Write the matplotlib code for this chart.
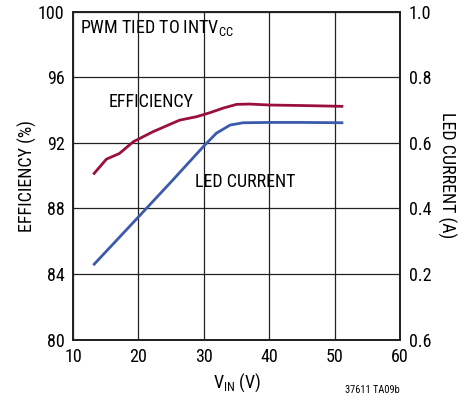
import matplotlib
matplotlib.use('Agg')
import matplotlib.pyplot as plt

plt.rcParams['font.family'] = ['Roboto Condensed', 'Archivo Narrow', 'DejaVu Sans']

# data
vin_eff = [13.1, 15.1, 17.1, 19.2, 22.2, 26.3, 28.9, 30.9, 33.0, 35.0, 37.0, 40.1, 45.0, 51.3]
efficiency = [90.07, 91.0, 91.35, 92.06, 92.67, 93.38, 93.59, 93.83, 94.12, 94.34, 94.36, 94.30, 94.27, 94.22]
vin_led = [13.1, 20.0, 25.0, 29.9, 31.9, 34.0, 36.0, 40.0, 45.0, 51.3]
led_current = [0.227, 0.374, 0.481, 0.588, 0.629, 0.654, 0.661, 0.662, 0.662, 0.661]

x_ticks = [10, 20, 30, 40, 50, 60]
eff_ticks = [80, 84, 88, 92, 96, 100]
cur_ticks = [0.0, 0.2, 0.4, 0.6, 0.8, 1.0]
cur_labels = ['0.6', '0.2', '0.4', '0.6', '0.8', '1.0']

red = '#9b0f3c'
blue = '#3b5aab'

fig = plt.figure(figsize=(4.73, 4.04), dpi=100)
ax = fig.add_axes([0.1543, 0.1592, 0.6918, 0.8123])
ax2 = ax.twinx()

ax.plot(vin_eff, efficiency, color=red, lw=2.0, solid_capstyle='butt', zorder=3)
ax2.plot(vin_led, led_current, color=blue, lw=2.0, solid_capstyle='butt', zorder=3)

ax.set_xlim(10, 60)
ax.set_ylim(80, 100)
ax2.set_ylim(0, 1.0)
ax.set_xticks(x_ticks)
ax.set_yticks(eff_ticks)
ax2.set_yticks(cur_ticks)
ax2.set_yticklabels(cur_labels)

ax.grid(True, color='#222222', lw=0.9)
ax.set_axisbelow(True)
for a in (ax, ax2):
    a.tick_params(length=0, labelsize=13, pad=6)
    for s in a.spines.values():
        s.set_linewidth(1.3)
        s.set_color('#222222')

ax.set_xlabel('V$_{\\mathregular{IN}}$ (V)', fontsize=13, labelpad=4)
ax.set_ylabel('EFFICIENCY (%)', fontsize=13, labelpad=0.5)
ax2.set_ylabel('LED CURRENT (A)', fontsize=13, rotation=270, labelpad=18)

ax.text(11.0, 99.0, 'PWM TIED TO INTV$_{\\mathregular{CC}}$', fontsize=13, va='center')
ax.text(15.5, 94.48, 'EFFICIENCY', fontsize=13, va='center')
ax.text(28.7, 89.6, 'LED CURRENT', fontsize=13, va='center')

fig.text(0.845, 0.022, '37611 TA09b', fontsize=7.5, ha='right', va='bottom')

fig.savefig('out.png', dpi=100)
